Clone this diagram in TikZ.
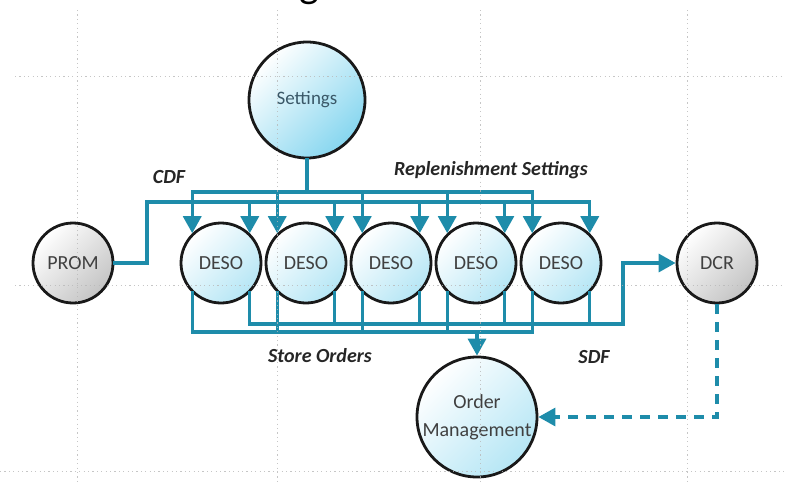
\documentclass[tikz,border=0pt]{standalone}
\usepackage{fontspec}
\setmainfont{Carlito}
\usetikzlibrary{arrows.meta}

\definecolor{flow}{HTML}{1E8CAA}
\definecolor{nodetext}{HTML}{404040}
\definecolor{settext}{HTML}{3A5868}
\definecolor{desofill}{HTML}{B5E6F5}
\definecolor{setfill}{HTML}{86D6EF}
\definecolor{greyfill}{HTML}{C4C4C4}
\definecolor{gridgrey}{HTML}{B8B8B8}

\tikzset{
  proc/.style={circle, draw=black!90, line width=2.8pt, inner sep=0pt,
    font=\fontsize{20}{24}\selectfont, text=nodetext},
  desonode/.style={proc, minimum size=80pt, top color=white, bottom color=desofill, shading angle=45},
  setnode/.style={proc, minimum size=116pt, top color=white, bottom color=setfill, shading angle=45,
    text=settext, font=\fontsize{19}{24}\selectfont},
  greynode/.style={proc, minimum size=80pt, top color=white, bottom color=greyfill, shading angle=45},
  omnode/.style={proc, minimum size=120pt, top color=white, bottom color=desofill, shading angle=45,
    align=center, font=\fontsize{20}{28}\selectfont},
  flowline/.style={draw=flow, line width=3.4pt, line cap=rect},
  tip/.style={-{Triangle[width=18pt,length=17pt]}},
  dashflow/.style={draw=flow, line width=3.2pt, dash pattern=on 10pt off 8pt},
  lbl/.style={font=\fontsize{20}{24}\selectfont\bfseries\itshape, text=black!85},
  gridline/.style={draw=gridgrey, line width=1pt, dash pattern=on 1.2pt off 3.2pt, opacity=0.8},
}

\begin{document}
\begin{tikzpicture}[x=1pt,y=-1pt]
\useasboundingbox (0,0) rectangle (785,485);

% heading, cut by the top edge
\begin{scope}
  \clip (0,0) rectangle (785,485);
  \node[anchor=base west, font=\fontsize{42}{42}\selectfont, inner sep=0pt] (title) at (75,-3) {Data flow diagram};
\end{scope}

% processes
\node[setnode]  (set) at (307,100) {Settings};
\node[greynode] (prom) at (73,263) {PROM};
\foreach \i/\x in {1/221,2/306,3/391,4/476,5/561}
  \node[desonode] (d\i) at (\x,263) {DESO};
\node[greynode] (dcr) at (717,263) {DCR};
\node[omnode]   (om) at (477,417) {Order\\Management};

% bus levels and bends
\coordinate (sbar) at (0,192);
\coordinate (cbar) at (0,202);
\coordinate (fbar) at (0,324);
\coordinate (obar) at (0,332);
\coordinate (cdfturn) at (147,263);
\coordinate (sdfturn) at (623,263);
\coordinate (omturn) at (0,417);

% replenishment settings bus
\draw[flowline] (set.south) -- (set.south |- sbar);
\draw[flowline] (d1.134 |- sbar) -- (d5.134 |- sbar);

% CDF bus from PROM
\draw[flowline] (prom.east) -- (cdfturn) -- (cdfturn |- cbar) -- (d5.46 |- cbar);

% feeds into and out of each DESO
\foreach \i in {1,...,5} {
  \draw[flowline, tip] (d\i.134 |- sbar) -- (d\i.134);
  \draw[flowline, tip] (d\i.46 |- cbar) -- (d\i.46);
  \draw[flowline] (d\i.226) -- (d\i.226 |- obar);
  \draw[flowline] (d\i.314) -- (d\i.314 |- fbar);
}

% SDF bus to DCR
\draw[flowline, tip] (d1.314 |- fbar) -- (sdfturn |- fbar) -- (sdfturn) -- (dcr.west);

% store orders bus to order management
\draw[flowline] (d1.226 |- obar) -- (d5.226 |- obar);
\draw[flowline, tip] (om.north |- obar) -- (om.north);

% DCR to order management
\draw[dashflow, tip] (dcr.south) -- (dcr.south |- omturn) -- (om.east);

% labels
\node[lbl] (lcdf) at (169,177) {CDF};
\node[lbl] (lrep) at (491,170) {Replenishment Settings};
\node[lbl] (lso)  at (320,356) {Store Orders};
\node[lbl] (lsdf) at (594,357) {SDF};

% guide grid
\draw[gridline] (15,76) -- (785,76);
\draw[gridline] (15,285) -- (785,285);
\draw[gridline] (0,471) -- (785,471);
\foreach \gx in {77,277,480,687}
  \draw[gridline] (\gx,10) -- (\gx,485);
\end{tikzpicture}
\end{document}
